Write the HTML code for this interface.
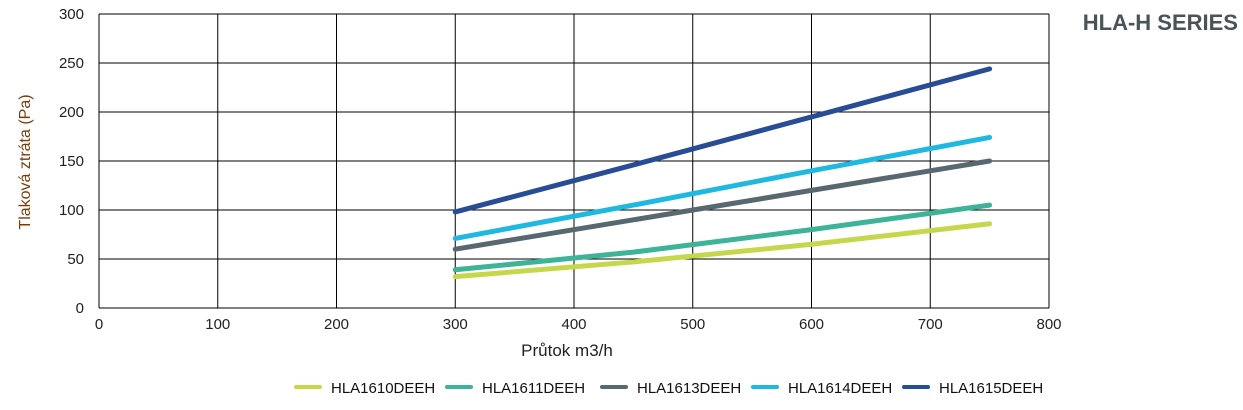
<!DOCTYPE html>
<html><head><meta charset="utf-8"><style>
body{margin:0;background:#fff;width:1243px;height:405px;overflow:hidden;font-family:"Liberation Sans",sans-serif}
svg text{font-family:"Liberation Sans",sans-serif}
</style></head><body>
<svg id="chart" width="1243" height="405" xmlns="http://www.w3.org/2000/svg">
<text x="1238" y="30" text-anchor="end" font-size="22" font-weight="bold" fill="#4a5358">HLA-H SERIES</text>
<text x="567" y="356" text-anchor="middle" font-size="17" fill="#222">Průtok m3/h</text>
<text transform="translate(30,162) rotate(-90)" text-anchor="middle" font-size="16" fill="#7a3d0a">Tlaková ztráta (Pa)</text>
<g id="grid"></g><g id="lines"></g><g id="legend"></g>
</svg>
<script>
const xTicks=[0,100,200,300,400,500,600,700,800];
const yTicks=[0,50,100,150,200,250,300];
const flows=[300,450,600,750];
const seriesNames=["HLA1610DEEH","HLA1611DEEH","HLA1613DEEH","HLA1614DEEH","HLA1615DEEH"];
const s1610=[32,47,65,86];
const s1611=[39,57,80,105];
const s1613=[60,90,120,150];
const s1614=[71,105,140,174];
const s1615=[98,146,195,244];
const colors=["#c5d74a","#3db398","#586870","#1fb8e0","#284d96"];
const allSeries=[s1610,s1611,s1613,s1614,s1615];
const X0=99,X1=1049,Y0=308,Y1=14;
const xs=v=>X0+(v/800)*(X1-X0);
const ys=v=>Y0-(v/300)*(Y0-Y1);
const NS="http://www.w3.org/2000/svg";
function mk(t,a,p){const e=document.createElementNS(NS,t);for(const k in a)e.setAttribute(k,a[k]);p.appendChild(e);return e;}
const g=document.getElementById('grid');
xTicks.forEach(v=>{
 const l=mk('line',{x1:xs(v),x2:xs(v),y1:Y1,y2:Y0,stroke:'#000','stroke-width':1},g);
 
 
 const t=mk('text',{x:xs(v),y:329,'text-anchor':'middle','font-size':15,fill:'#222'},g);t.textContent=v;
 
 
});
yTicks.forEach(v=>{
 const l=mk('line',{x1:X0,x2:X1,y1:ys(v),y2:ys(v),stroke:'#000','stroke-width':1},g);
 
 
 const t=mk('text',{x:84,y:ys(v)+5,'text-anchor':'end','font-size':15,fill:'#222'},g);t.textContent=v;
 
 
});
const lg=document.getElementById('lines');
allSeries.forEach((s,i)=>{
 const pts=flows.map((f,j)=>xs(f)+','+ys(s[j])).join(' ');
 const p=mk('polyline',{points:pts,fill:'none',stroke:colors[i],'stroke-width':5,'stroke-linecap':'round','stroke-linejoin':'round'},lg);
 
 
});
const leg=document.getElementById('legend');
const legX=[296,447,602,753,904];
seriesNames.forEach((n,i)=>{
 const l=mk('line',{x1:legX[i],x2:legX[i]+24,y1:387,y2:387,stroke:colors[i],'stroke-width':4,'stroke-linecap':'round'},leg);
 
 
 const t=mk('text',{x:legX[i]+35,y:393,'font-size':15,fill:'#111'},leg);t.textContent=n;
 
 
});
</script>
</body></html>
